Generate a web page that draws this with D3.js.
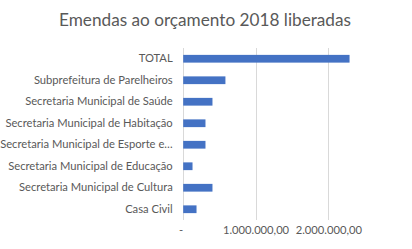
<!DOCTYPE html>
<html><head><meta charset="utf-8">
<script src="https://cdn.jsdelivr.net/npm/d3@7"></script>
<style>body{margin:0;background:#fff}svg{display:block}</style>
</head><body>
<script>
const categories = ["TOTAL","Subprefeitura de Parelheiros","Secretaria Municipal de Saúde","Secretaria Municipal de Habitação","Secretaria Municipal de Esporte e…","Secretaria Municipal de Educação","Secretaria Municipal de Cultura","Casa Civil"];
const values = [2285000,580000,402000,306000,306000,128000,402000,183000];
const tickValues = [0,1000000,2000000];
const tickLabels = ["-","1.000.000,00","2.000.000,00"];
const title = "Emendas ao orçamento 2018 liberadas";

const W=412,H=249;
const font="Lato, 'Open Sans', sans-serif";
const svg=d3.select("body").append("svg").attr("width",W).attr("height",H);
const x=d3.scaleLinear().domain([0,2500000]).range([182.7,364.7]);
const y=d3.scaleBand().domain(categories).range([48,220]).paddingInner(0.64).paddingOuter(0.32);

svg.append("text").attr("x",205).attr("y",26).attr("text-anchor","middle")
  .attr("font-family",font).attr("font-size",17.2).attr("fill","#595959").text(title);

svg.append("g").selectAll("line").data(tickValues).join("line")
  .attr("x1",d=>Math.round(x(d))+0.5).attr("x2",d=>Math.round(x(d))+0.5)
  .attr("y1",48).attr("y2",220).attr("stroke","#D9D9D9").attr("stroke-width",1);

svg.append("g").selectAll("rect").data(values).join("rect")
  .attr("x",x(0)+0.5).attr("y",(d,i)=>y(categories[i]))
  .attr("width",d=>x(d)-x(0)).attr("height",y.bandwidth()).attr("fill","#4472C4");

const ya=svg.append("g").attr("transform","translate(182.7,0)")
  .call(d3.axisLeft(y).tickSize(0).tickPadding(10));
ya.select(".domain").remove();
ya.selectAll("text").attr("font-family",font).attr("font-size",11.2).attr("fill","#595959");

const xa=svg.append("g").attr("transform","translate(0,226)")
  .call(d3.axisBottom(x).tickValues(tickValues).tickFormat((d,i)=>tickLabels[i]).tickSize(0).tickPadding(0));
xa.select(".domain").remove();
xa.selectAll("text").attr("font-family",font).attr("font-size",11.2).attr("fill","#595959");
xa.selectAll(".tick").filter(d=>d===0).select("text").attr("dx",-2);
</script>
</body></html>
